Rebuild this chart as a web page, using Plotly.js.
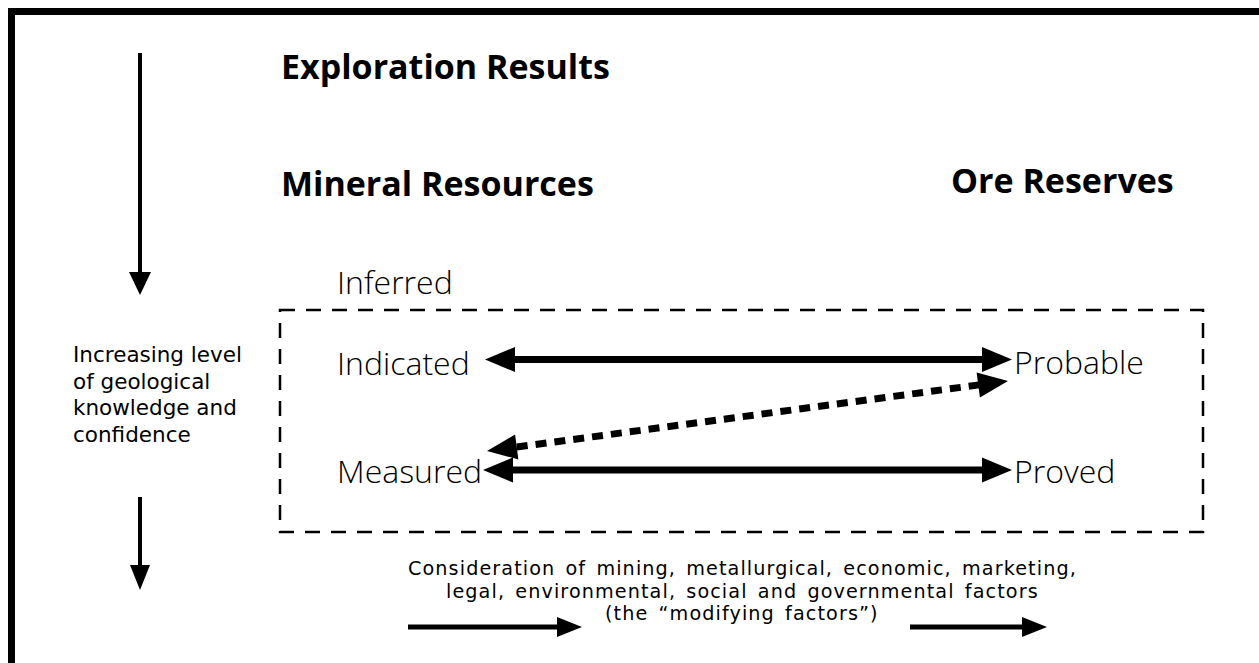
<!DOCTYPE html>
<html>
<head>
<meta charset="utf-8">
<script src="https://cdn.plot.ly/plotly-3.0.1.min.js"></script>
<style>
html,body{margin:0;padding:0;background:#fff;}
#chart{width:1259px;height:663px;}
</style>
</head>
<body>
<div id="chart"></div>
<script>
// ---- Diagram content (text) ----
const headings = ["Exploration Results", "Mineral Resources", "Ore Reserves"];
const categories = ["Inferred", "Indicated", "Measured", "Probable", "Proved"];
const sideNote = ["Increasing level", "of geological", "knowledge and", "confidence"];
const footerLines = [
  "Consideration of mining, metallurgical, economic, marketing,",
  "legal, environmental, social and governmental factors",
  "(the \u201cmodifying factors\u201d)"
];

// ---- Diagram geometry (in pixel-like data units, y downward) ----
const headingX = [280, 280, 950];
const headingY = [66, 183, 180];
const categoryX = [336, 336, 336, 1013, 1013];
const categoryY = [281, 362, 470, 361, 470];
const sideNoteX = 72;
const sideNoteY = [354.5, 381, 407.5, 434];
const footerX = 742;
const footerY = [568.5, 591, 613.5];

// arrows: from -> to (tip at "to"); double = head at both ends
const arrowNames  = ["knowledge1", "knowledge2", "indProb", "meaProv", "meaProb", "mod1", "mod2"];
const arrowFromX  = [140, 140, 485, 483, 487, 408, 910];
const arrowFromY  = [53, 497, 359.5, 470, 451, 627, 627];
const arrowToX    = [140, 140, 1012, 1012, 1008, 582, 1047];
const arrowToY    = [295, 590, 359.5, 470, 381, 627, 627];
const arrowDouble = [false, false, true, true, true, false, false];
const arrowDashed = [false, false, false, false, true, false, false];
const arrowWidth  = [4, 4, 7, 7, 7, 5, 5];
const headLen     = [23, 25, 30, 30, 30, 25, 25];
const headHalf    = [11, 10, 12.5, 12.5, 12.5, 10, 10];

// frames
const frameBox = [11.5, 11.5, 1275, 680];
const dashedBox = [280, 310, 1203, 532];

// ---- Build shapes ----
const shapes = [];
shapes.push({type:"rect", xref:"x", yref:"y", x0:frameBox[0], y0:frameBox[1], x1:frameBox[2], y1:frameBox[3],
  line:{color:"#000", width:7}, fillcolor:"rgba(0,0,0,0)"});
shapes.push({type:"rect", xref:"x", yref:"y", x0:dashedBox[0], y0:dashedBox[1], x1:dashedBox[2], y1:dashedBox[3],
  line:{color:"#000", width:2.5, dash:"15px,11px"}, fillcolor:"rgba(0,0,0,0)"});

function head(tx, ty, ux, uy, L, W) {
  const bx = tx - ux * L, by = ty - uy * L;
  const px = -uy, py = ux;
  return {
    base: [bx, by],
    path: `M ${tx},${ty} L ${bx + px * W},${by + py * W} L ${bx - px * W},${by - py * W} Z`
  };
}

for (let i = 0; i < arrowNames.length; i++) {
  const fx = arrowFromX[i], fy = arrowFromY[i], tx = arrowToX[i], ty = arrowToY[i];
  const len = Math.hypot(tx - fx, ty - fy);
  const ux = (tx - fx) / len, uy = (ty - fy) / len;
  const h2 = head(tx, ty, ux, uy, headLen[i], headHalf[i]);
  let start = [fx, fy];
  shapes.push({type:"path", xref:"x", yref:"y", path:h2.path, fillcolor:"#000", line:{width:0}});
  if (arrowDouble[i]) {
    const h1 = head(fx, fy, -ux, -uy, headLen[i], headHalf[i]);
    shapes.push({type:"path", xref:"x", yref:"y", path:h1.path, fillcolor:"#000", line:{width:0}});
    start = h1.base;
  }
  const end = [h2.base[0] + ux * 1, h2.base[1] + uy * 1];
  shapes.push({type:"line", xref:"x", yref:"y", x0:start[0], y0:start[1], x1:end[0], y1:end[1],
    line:{color:"#000", width:arrowWidth[i], dash: arrowDashed[i] ? "11px,8px" : "solid"}});
}

// ---- Build annotations ----
const FAM = "'Open Sans', 'Noto Sans', sans-serif";
const FAM2 = "'DejaVu Sans', 'Open Sans', sans-serif";
const annotations = [];
const boldFont = {family:FAM, size:34, color:"#000", weight:700};
const lightFont = {family:FAM, size:32, color:"#000", weight:300};
headings.forEach((t, i) => annotations.push({text:t, x:headingX[i], y:headingY[i], xref:"x", yref:"y",
  xanchor:"left", yanchor:"middle", showarrow:false, borderpad:0, font:boldFont}));
categories.forEach((t, i) => annotations.push({text:t, x:categoryX[i], y:categoryY[i], xref:"x", yref:"y",
  xanchor:"left", yanchor:"middle", showarrow:false, borderpad:0, font:lightFont}));
sideNote.forEach((t, i) => annotations.push({text:t, x:sideNoteX, y:sideNoteY[i], xref:"x", yref:"y",
  xanchor:"left", yanchor:"middle", showarrow:false, borderpad:0,
  font:{family:FAM2, size:21.5, color:"#000", weight:400}}));
footerLines.forEach((t, i) => annotations.push({
  text:`<span style="letter-spacing:1.1px;word-spacing:3px">${t}</span>`,
  x:footerX, y:footerY[i], xref:"x", yref:"y",
  xanchor:"center", yanchor:"middle", showarrow:false, borderpad:0,
  font:{family:FAM2, size:19.2, color:"#000", weight:400}}));

const layout = {
  width:1259, height:663,
  margin:{l:0, r:0, t:0, b:0, pad:0},
  paper_bgcolor:"#fff", plot_bgcolor:"#fff",
  xaxis:{range:[0,1259], visible:false, fixedrange:true},
  yaxis:{range:[663,0], visible:false, fixedrange:true},
  showlegend:false,
  shapes:shapes,
  annotations:annotations
};

Plotly.newPlot("chart", [{x:[], y:[], type:"scatter", mode:"markers", hoverinfo:"skip"}], layout,
  {staticPlot:true, displayModeBar:false});
</script>
</body>
</html>
